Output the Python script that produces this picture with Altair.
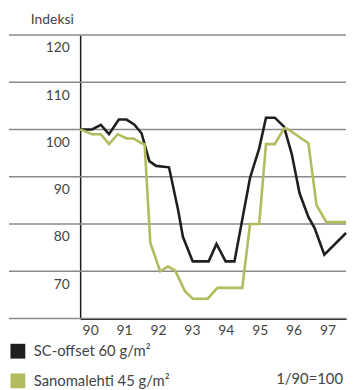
import altair as alt
import pandas as pd

# --- data ---
series_names = ["SC-offset 60 g/m²", "Sanomalehti 45 g/m²"]
series_colors = ["#1f1f1f", "#b2bb5e"]

sc_x = [90.0, 90.35, 90.61, 90.85, 91.14, 91.37, 91.60, 91.81, 92.04, 92.24, 92.62,
        92.89, 93.03, 93.32, 93.79, 94.02, 94.29, 94.55, 95.01, 95.28, 95.48, 95.74,
        96.01, 96.24, 96.47, 96.73, 96.91, 97.20, 97.84]
sc_y = [100.0, 100.0, 101.0, 99.0, 102.1, 102.1, 101.0, 99.2, 93.3, 92.3, 92.0,
        82.9, 77.3, 72.1, 72.1, 75.8, 72.1, 72.1, 89.8, 96.0, 102.5, 102.5,
        100.6, 94.8, 86.5, 81.5, 79.2, 73.5, 78.1]

sl_x = [90.0, 90.15, 90.35, 90.61, 90.85, 91.11, 91.37, 91.57, 91.81, 91.90, 92.07,
        92.36, 92.59, 92.80, 93.09, 93.32, 93.76, 94.05, 94.78, 95.01, 95.28, 95.48,
        95.74, 96.01, 96.10, 96.73, 96.97, 97.26, 97.84]
sl_y = [100.0, 99.6, 99.0, 99.0, 96.9, 99.0, 98.1, 98.1, 97.1, 96.9, 76.0,
        70.0, 71.0, 70.2, 65.8, 64.2, 64.2, 66.5, 66.5, 80.0, 80.0, 96.9,
        96.9, 100.2, 100.2, 97.1, 84.0, 80.4, 80.4]

y_ticks = [60, 70, 80, 90, 100, 110, 120]
x_ticks = [90, 91, 92, 93, 94, 95, 96, 97]
y_title = "Indeksi"
base_note = "1/90=100"

FONT = "Lato"
W, H = 269, 287

lines_df = pd.concat([
    pd.DataFrame({"x": sc_x, "y": sc_y, "s": series_names[0], "o": range(len(sc_x))}),
    pd.DataFrame({"x": sl_x, "y": sl_y, "s": series_names[1], "o": range(len(sl_x))}),
])
grid_df = pd.DataFrame({"v": y_ticks})

yscale = alt.Scale(domain=[60, 120], nice=False, zero=False)
xscale = alt.Scale(domain=[90, 97.84], nice=False, zero=False)
cscale = alt.Scale(domain=series_names, range=series_colors)

y_axis = alt.Axis(values=y_ticks, grid=False, ticks=False,
                  domainColor="#1a1a1a", domainWidth=1.5,
                  labelBaseline="top", labelOffset=6, labelPadding=11,
                  labelFontSize=14, labelColor="#444444", labelFont=FONT,
                  labelExpr="datum.value == 60 ? '' : datum.value",
                  title=y_title, titleAngle=0, titleX=-7, titleY=-16,
                  titleAlign="right", titleBaseline="middle",
                  titleFont=FONT, titleFontSize=14, titleFontWeight="normal",
                  titleColor="#444444")

grid = alt.Chart(grid_df).mark_rule(color="#8a8a8a", strokeWidth=1.5).encode(
    y=alt.Y("v:Q", scale=yscale, axis=y_axis),
    x=alt.value(-72),
    x2=alt.value(W),
)

lines = alt.Chart(lines_df).mark_line(strokeWidth=2.6, strokeJoin="miter").encode(
    x=alt.X("x:Q", scale=xscale,
            axis=alt.Axis(values=x_ticks, format="d", grid=False, ticks=False,
                          domainColor="#1a1a1a", domainWidth=2, labelAlign="left",
                          labelOffset=2, labelPadding=5, labelFontSize=14,
                          labelColor="#444444", labelFont=FONT, title=None)),
    y=alt.Y("y:Q", scale=yscale, axis=y_axis),
    color=alt.Color("s:N", scale=cscale, legend=None),
    order="o:Q",
)

legend_layers = []
row_y = [320, 350]
for name, col, ry in zip(series_names, series_colors, row_y):
    d = pd.DataFrame({"s": [name]})
    legend_layers.append(
        alt.Chart(d).mark_square(size=225, opacity=1, color=col).encode(
            x=alt.value(-63), y=alt.value(ry)))
    legend_layers.append(
        alt.Chart(d).mark_text(align="left", baseline="middle", fontSize=15,
                               font=FONT, color="#444444").encode(
            text="s:N", x=alt.value(-47), y=alt.value(ry)))

note = alt.Chart(pd.DataFrame({"t": [base_note]})).mark_text(
    align="right", baseline="middle", fontSize=15, font=FONT, color="#444444"
).encode(text="t:N", x=alt.value(266), y=alt.value(348))

chart = alt.layer(grid, lines, *legend_layers, note).properties(
    width=W, height=H,
    padding={"left": 73, "top": 25, "right": 2, "bottom": 70},
    autosize=alt.AutoSizeParams(type="none"),
).configure_view(stroke=None)

chart.save("out.html", embed_options={"renderer": "svg", "actions": False})
